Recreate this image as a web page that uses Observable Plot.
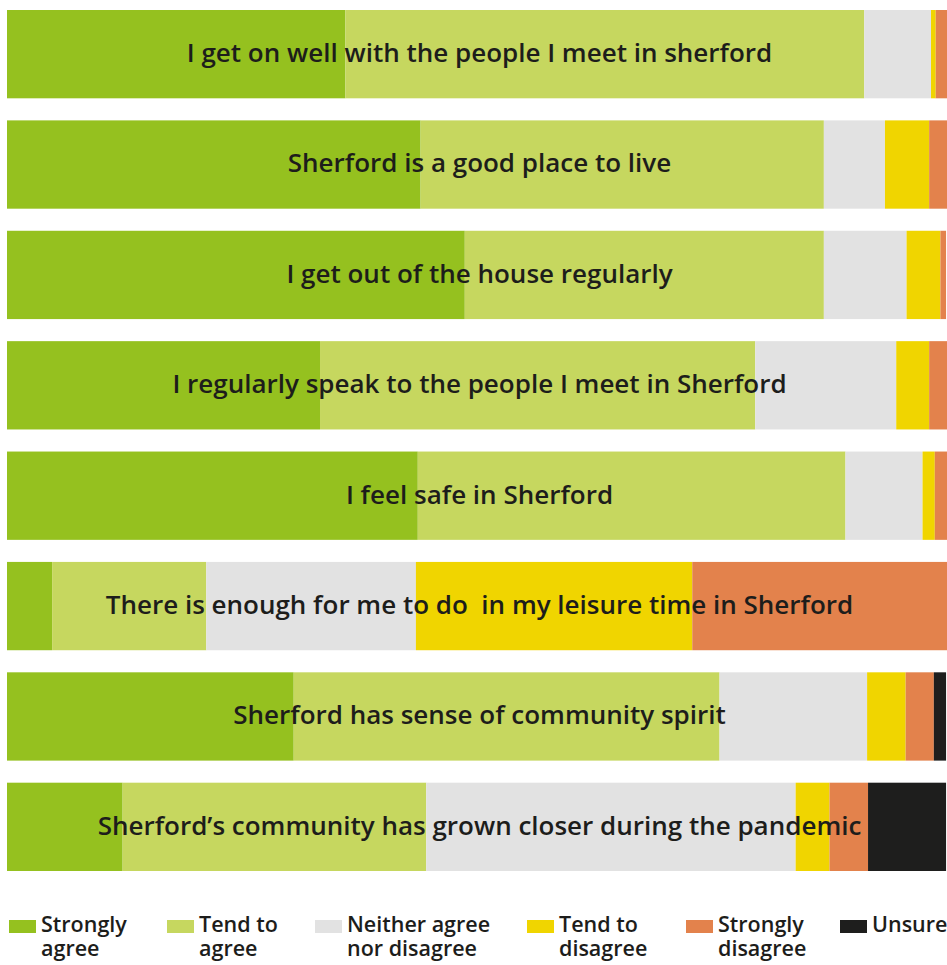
<!DOCTYPE html>
<html>
<head>
<meta charset="utf-8">
<script src="https://cdn.jsdelivr.net/npm/d3@7"></script>
<script src="https://cdn.jsdelivr.net/npm/@observablehq/plot@0.6"></script>
<style>
  html, body { margin: 0; padding: 0; background: #ffffff; }
  #chart { width: 947px; height: 880px; }
  #legend { position: relative; width: 947px; height: 85px;
    font-family: "Open Sans", sans-serif; font-weight: 600; font-size: 21.5px; color: #1d1d1b; line-height: 24px; }
  .sw { position: absolute; top: 40px; width: 27px; height: 13px; }
  .ln { position: absolute; white-space: nowrap; height: 24px; }
</style>
</head>
<body>
<div id="chart"></div>
<div id="legend"></div>
<script>
const statements = [
  "I get on well with the people I meet in sherford",
  "Sherford is a good place to live",
  "I get out of the house regularly",
  "I regularly speak to the people I meet in Sherford",
  "I feel safe in Sherford",
  "There is enough for me to do  in my leisure time in Sherford",
  "Sherford has sense of community spirit",
  "Sherford’s community has grown closer during the pandemic"
];
const categories = ["Strongly agree", "Tend to agree", "Neither agree nor disagree", "Tend to disagree", "Strongly disagree", "Unsure"];
const legendLines = [["Strongly", "agree"], ["Tend to", "agree"], ["Neither agree", "nor disagree"], ["Tend to", "disagree"], ["Strongly", "disagree"], ["Unsure", ""]];
const colors = ["#95c11f", "#c6d75f", "#e2e2e2", "#f0d500", "#e3824c", "#1e1e1d"];

// percentages per statement, in category order
const stronglyAgree    = [36.0, 44.0, 48.7, 33.3, 43.7,  4.8, 30.5, 12.3];
const tendToAgree      = [55.2, 42.9, 38.2, 46.3, 45.5, 16.4, 45.3, 32.3];
const neither          = [ 7.1,  6.5,  8.8, 15.0,  8.2, 22.3, 15.7, 39.3];
const tendToDisagree   = [ 0.5,  4.7,  3.6,  3.5,  1.3, 29.4,  4.1,  3.6];
const stronglyDisagree = [ 1.2,  1.9,  0.6,  1.9,  1.3, 27.1,  3.0,  4.1];
const unsure           = [ 0.1,  0.0,  0.0,  0.0,  0.0,  0.0,  1.3,  8.3];

const series = [stronglyAgree, tendToAgree, neither, tendToDisagree, stronglyDisagree, unsure];
const data = [];
statements.forEach((s, i) => {
  series.forEach((vals, j) => {
    data.push({statement: s, category: categories[j], value: vals[i]});
  });
});

const chart = Plot.plot({
  width: 947,
  height: 880,
  marginLeft: 7,
  marginRight: 0,
  marginTop: 10,
  marginBottom: 9,
  x: {domain: [0, 100], axis: null},
  y: {domain: statements, axis: null, paddingInner: 0.2, paddingOuter: 0, round: false},
  color: {domain: categories, range: colors},
  style: {fontFamily: "'Open Sans', sans-serif", background: "#ffffff"},
  marks: [
    Plot.barX(data, {x: "value", y: "statement", fill: "category", order: categories}),
    Plot.text(statements, {x: 50, y: d => d, text: d => d, dx: 2, dy: -1, fontSize: 26, fontWeight: 600, fill: "#1d1d1b"})
  ]
});
document.getElementById("chart").appendChild(chart);

const lefts = [9, 167, 315, 527, 686, 840];
const legend = document.getElementById("legend");
categories.forEach((c, i) => {
  const sw = document.createElement("div");
  sw.className = "sw";
  sw.style.left = lefts[i] + "px";
  sw.style.background = colors[i];
  legend.appendChild(sw);
  legendLines[i].forEach((t, k) => {
    if (!t) return;
    const ln = document.createElement("div");
    ln.className = "ln";
    ln.style.left = (lefts[i] + 32) + "px";
    ln.style.top = (32 + 24 * k) + "px";
    ln.textContent = t;
    legend.appendChild(ln);
  });
});
</script>
</body>
</html>
